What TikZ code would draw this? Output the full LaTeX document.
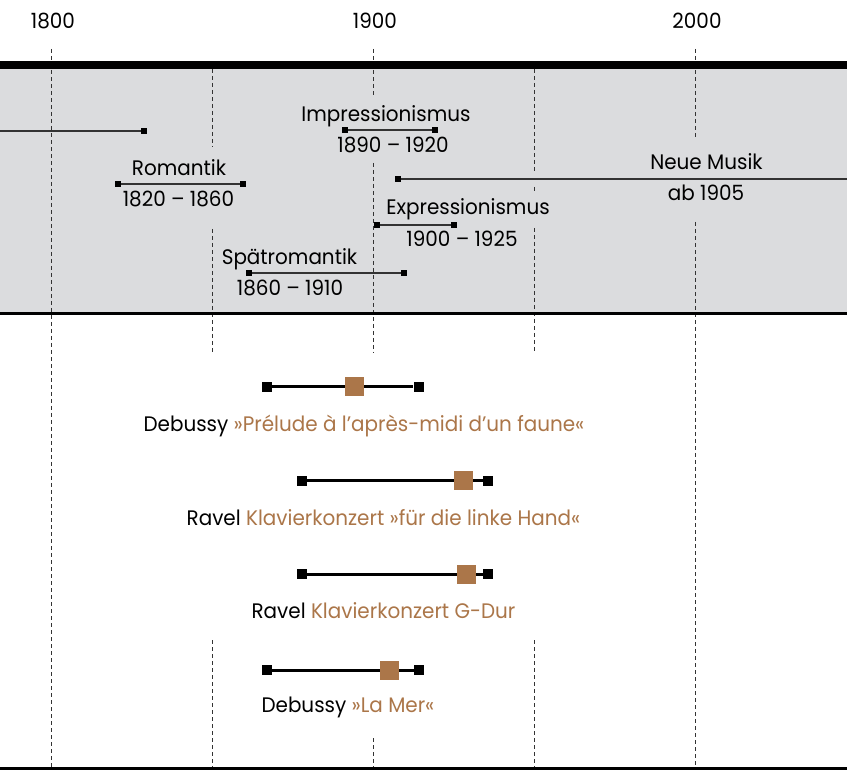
\documentclass[tikz,border=0pt]{standalone}
\usepackage{fontspec}
\setmainfont{Poppins}[FakeStretch=0.95]
\usetikzlibrary{calc}

\begin{document}
\begin{tikzpicture}
  [x=0.5pt, y=-0.5pt,
    font=\fontsize{10.5}{12}\selectfont]

    \definecolor{bande}{HTML}{DBDCDE}
    \definecolor{bronze}{HTML}{AB7649}
    \definecolor{trait}{HTML}{333333}

  \tikzset{
    grille/.style={draw=trait, line width=0.5pt, dash pattern=on 2pt off 1.5pt},
    periode/.style={draw=trait, line width=0.7pt},
    borne/.style={fill=black, inner sep=0pt, minimum size=3pt},
    oeuvre/.style={draw=black, line width=1.5pt},
    extremite/.style={fill=black, inner sep=0pt, minimum width=5pt, minimum height=5.3pt},
    repere/.style={fill=bronze, inner sep=0pt, minimum size=9.5pt},
    legende/.style={anchor=base, inner sep=0pt},
  }

  \useasboundingbox (0,0) rectangle (847,770);
  \fill[bande] (0,65) rectangle (847,313);

  % grille des siecles
  \draw[grille] (51,49) -- (51,768);
  \draw[grille] (212,69) -- (212,147) (212,229) -- (212,353) (212,640) -- (212,768);
  \draw[grille] (373,49) -- (373,98) (373,163) -- (373,353) (373,738) -- (373,768);
  \draw[grille] (534,69) -- (534,172) (534,187) -- (534,192) (534,228) -- (534,353)
    (534,640) -- (534,768);
  \draw[grille] (695,49) -- (695,140) (695,222) -- (695,768);

  \draw[line width=4pt] (0,65) -- (847,65);
  \draw[line width=1.75pt] (0,313.5) -- (847,313.5);
  \draw[line width=1.5pt] (0,768.5) -- (847,768.5);

  \node[legende] (a1800) at (53,29) {1800};
  \node[legende] (a1900) at (375,29) {1900};
  \node[legende] (a2000) at (697,29) {2000};

  % epoques
  \coordinate (kla-a) at (0,131);
  \node[borne] (kla-b) at (144,131) {};
  \draw[periode] (kla-a) -- (kla-b);

  \node[borne] (imp-a) at (345,130) {};
  \node[borne] (imp-b) at (435,130) {};
  \draw[periode] (imp-a) -- (imp-b);
  \node[legende] (imp) at (386,122) {Impressionismus};
  \node[legende] (imp-d) at (393,153) {1890 -- 1920};

  \node[borne] (rom-a) at (118,184) {};
  \node[borne] (rom-b) at (243,184) {};
  \draw[periode] (rom-a) -- (rom-b);
  \node[legende] (rom) at (179,176) {Romantik};
  \node[legende] (rom-d) at (178.5,207) {1820 -- 1860};

  \node[borne] (neu-a) at (398,179) {};
  \coordinate (neu-b) at (847,179);
  \draw[periode] (neu-a) -- (neu-b);
  \node[legende] (neu) at (706.5,170) {Neue Musik};
  \node[legende] (neu-d) at (706,201) {ab 1905};

  \node[borne] (exp-a) at (377,225) {};
  \node[borne] (exp-b) at (454,225) {};
  \draw[periode] (exp-a) -- (exp-b);
  \node[legende] (exp) at (468,215) {Expressionismus};
  \node[legende] (exp-d) at (462,247) {1900 -- 1925};

  \node[borne] (spa-a) at (249,273) {};
  \node[borne] (spa-b) at (404,273) {};
  \draw[periode] (spa-a) -- (spa-b);
  \node[legende] (spa) at (289.5,265) {Spätromantik};
  \node[legende] (spa-d) at (290,296) {1860 -- 1910};

  % oeuvres
  \node[extremite] (faune-a) at (267,387) {};
  \node[extremite] (faune-b) at (418.5,387) {};
  \draw[oeuvre] (faune-a) -- (faune-b);
  \node[repere] (faune-r) at (354.5,387) {};
  \node[legende] (faune) at (364,432)
    {Debussy \textcolor{bronze}{»Prélude à l’après-midi d’un faune«}};

  \node[extremite] (main-a) at (302,481) {};
  \node[extremite] (main-b) at (488,481) {};
  \draw[oeuvre] (main-a) -- (main-b);
  \node[repere] (main-r) at (463.5,481) {};
  \node[legende] (main) at (383.5,525)
    {Ravel \textcolor{bronze}{Klavierkonzert »für die linke Hand«}};

  \node[extremite] (gdur-a) at (302,574) {};
  \node[extremite] (gdur-b) at (488,574) {};
  \draw[oeuvre] (gdur-a) -- (gdur-b);
  \node[repere] (gdur-r) at (466,574) {};
  \node[legende] (gdur) at (383.5,618)
    {Ravel \textcolor{bronze}{Klavierkonzert G-Dur}};

  \node[extremite] (mer-a) at (267,670) {};
  \node[extremite] (mer-b) at (419,670) {};
  \draw[oeuvre] (mer-a) -- (mer-b);
  \node[repere] (mer-r) at (389,670) {};
  \node[legende] (mer) at (348,712)
    {Debussy \textcolor{bronze}{»La Mer«}};
\end{tikzpicture}
\end{document}
